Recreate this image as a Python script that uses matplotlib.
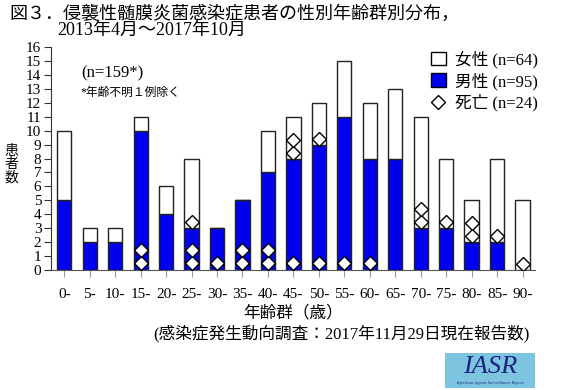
import matplotlib
matplotlib.use("Agg")
import matplotlib.pyplot as plt
from matplotlib.patches import Patch, Rectangle
from matplotlib.lines import Line2D
import numpy as np

plt.rcParams['font.family'] = ['Liberation Serif', 'Noto Sans CJK JP', 'DejaVu Sans']

categories = ["0-", "5-", "10-", "15-", "20-", "25-", "30-", "35-", "40-", "45-",
              "50-", "55-", "60-", "65-", "70-", "75-", "80-", "85-", "90-"]
male = [5, 2, 2, 10, 4, 3, 3, 5, 7, 8, 9, 11, 8, 8, 3, 3, 2, 2, 0]
female = [5, 1, 1, 1, 2, 5, 0, 0, 3, 3, 3, 4, 4, 5, 8, 5, 3, 6, 5]
deaths_male = [0, 0, 0, 2, 0, 2, 1, 2, 2, 1, 1, 1, 1, 0, 0, 0, 0, 0, 0]
deaths_female = [0, 0, 0, 0, 0, 1, 0, 0, 0, 2, 1, 0, 0, 0, 2, 1, 2, 1, 1]
yticks = list(range(0, 17))

blue = "#0000F0"

fig = plt.figure(figsize=(5.8, 3.9), dpi=100)
ax = fig.add_axes([0.088, 0.308, 0.834, 0.571])

x = np.arange(len(categories))
ax.bar(x, male, width=0.56, color=blue, edgecolor="#222222", linewidth=1.0, zorder=2)
ax.bar(x, female, bottom=male, width=0.56, color="white", edgecolor="#222222",
       linewidth=1.0, zorder=2)

# death markers
dx, dy = [], []
for i in range(len(categories)):
    for k in range(deaths_male[i]):
        dx.append(x[i]); dy.append(0.5 + 0.92 * k)
    for k in range(deaths_female[i]):
        dx.append(x[i]); dy.append(male[i] + 0.42 + 0.92 * k)
ax.plot(dx, dy, linestyle="none", marker="D", markersize=7.2,
        markerfacecolor="white", markeredgecolor="black", markeredgewidth=1.0, zorder=3)

ax.set_xlim(-0.52, 18.48)
ax.set_ylim(0, 16)
ax.set_yticks(yticks)
ax.set_xticks(x)
ax.set_xticklabels(categories)
for s in ["top", "right"]:
    ax.spines[s].set_visible(False)
ax.spines["left"].set_color("#333333")
ax.spines["bottom"].set_color("#555555")
ax.tick_params(axis="y", direction="out", length=5, labelsize=11, pad=2, color="#333333")
ax.tick_params(axis="x", direction="out", length=5, labelsize=11, pad=8, color="#999999")

ax.set_xlabel("年齢群（歳）", fontsize=12, labelpad=3)

fig.text(0.019, 0.577, "患\n者\n数", fontsize=10, ha="center", va="center", linespacing=1.0)

# title
fig.text(0.017, 0.965, "図３．侵襲性髄膜炎菌感染症患者の性別年齢群別分布，", fontsize=13,
         ha="left", va="center")
fig.text(0.098, 0.922, "2013年4月～2017年10月", fontsize=13, ha="left", va="center")

# annotations
fig.text(0.140, 0.812, "(n=159*)", fontsize=12, ha="left", va="center")
fig.text(0.138, 0.763, "*年齢不明１例除く", fontsize=8.5, ha="left", va="center")

fig.text(0.913, 0.146, "(感染症発生動向調査：2017年11月29日現在報告数)", fontsize=12,
         ha="right", va="center")

# legend
handles = [Patch(facecolor="white", edgecolor="black", linewidth=1.0),
           Patch(facecolor=blue, edgecolor="black", linewidth=1.0),
           Line2D([], [], linestyle="none", marker="D", markersize=7.2,
                  markerfacecolor="white", markeredgecolor="black")]
labels = ["女性 (n=64)", "男性 (n=95)", "死亡 (n=24)"]
fig.legend(handles, labels, loc="upper left", bbox_to_anchor=(0.743, 0.87),
           frameon=False, fontsize=12, handlelength=0.9, handleheight=0.9,
           handletextpad=0.55, labelspacing=0.25, borderpad=0, borderaxespad=0)

# IASR logo
fig.patches.append(Rectangle((0.767, 0.005), 0.155, 0.09, transform=fig.transFigure,
                             facecolor="#7cc4df", edgecolor="none"))
fig.text(0.845, 0.06, "IASR", fontsize=19, style="italic", color="#1a237e",
         ha="center", va="center", family="Liberation Serif")
fig.text(0.845, 0.018, "Infectious Agents Surveillance Report", fontsize=3.2,
         style="italic", color="#1a237e", ha="center", va="center",
         family="Liberation Serif")

fig.savefig("out.png", dpi=100)
